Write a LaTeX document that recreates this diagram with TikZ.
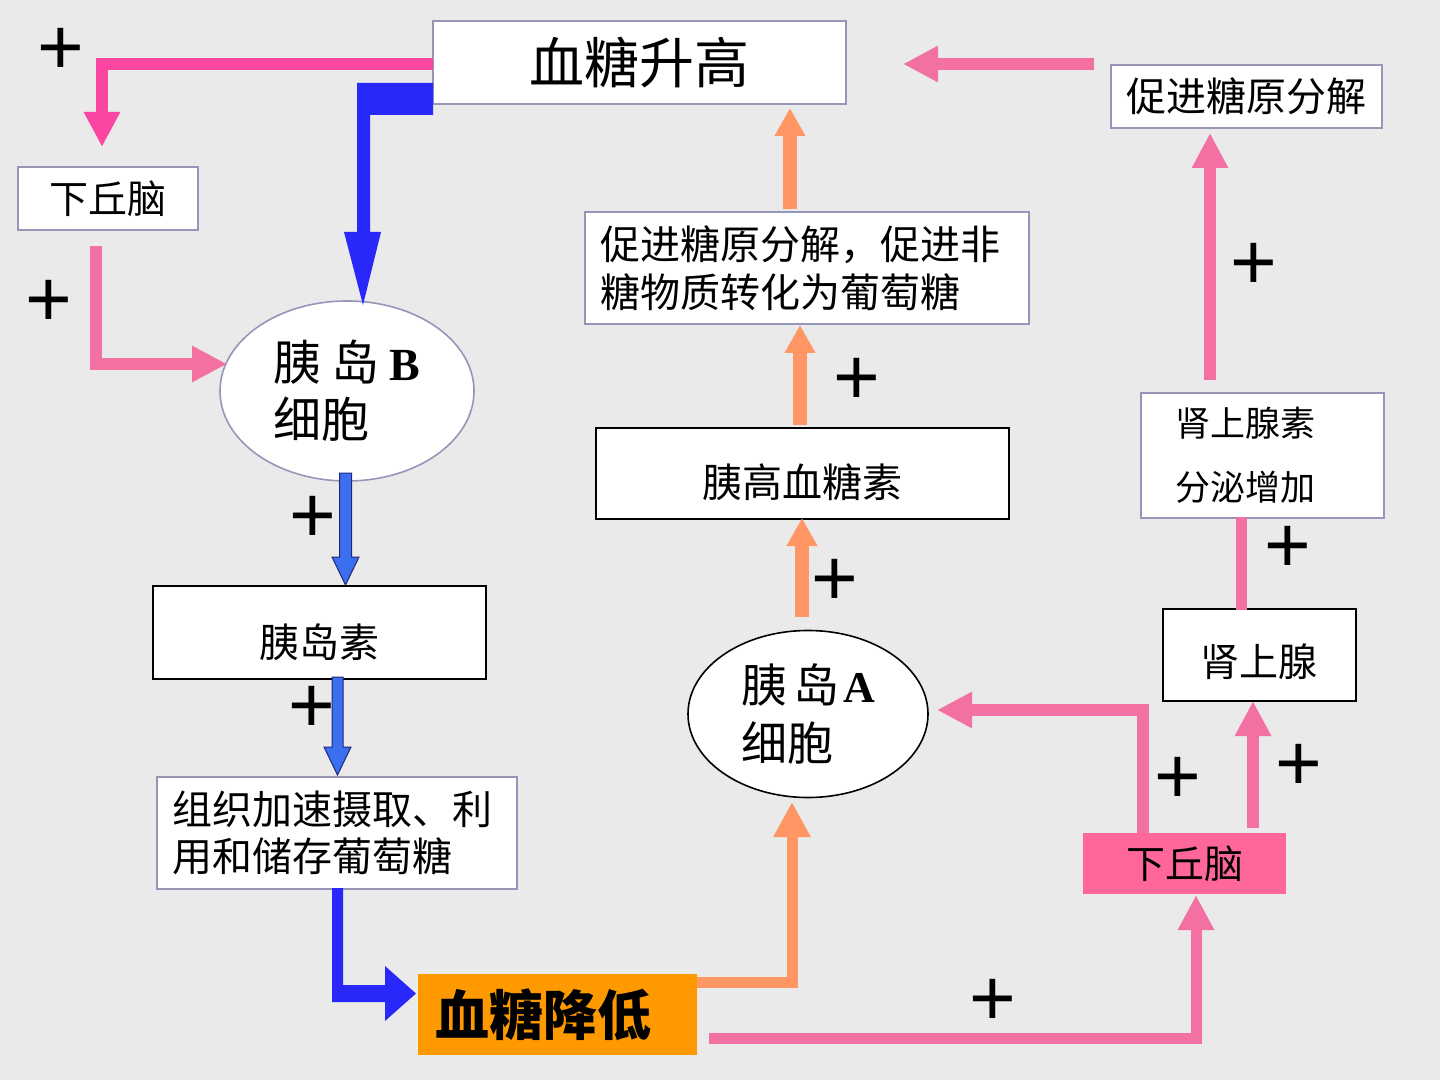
\documentclass[tikz,border=0pt]{standalone}
\usepackage{fontspec}
\newfontfamily\cjk{Noto Sans CJK SC}
\newfontfamily\lserif{Liberation Serif}
\newfontfamily\lsans{Liberation Sans}
\usetikzlibrary{arrows.meta,shapes.geometric}
\definecolor{bg}{RGB}{234,234,234}
\definecolor{bordgray}{RGB}{150,150,185}
\definecolor{pinkA}{RGB}{250,70,160}
\definecolor{pinkB}{RGB}{242,112,162}
\definecolor{orangeL}{RGB}{255,150,100}
\definecolor{orangeBox}{RGB}{255,153,0}
\definecolor{blueA}{RGB}{40,40,250}
\definecolor{blueB}{RGB}{60,110,240}
\definecolor{blueEdge}{RGB}{30,40,120}
\definecolor{pinkBox}{RGB}{255,102,153}
\tikzset{
  gbox/.style={draw=bordgray, line width=0.8pt, fill=white, inner sep=0pt, anchor=north west},
  kbox/.style={gbox, draw=black},
  cell/.style={ellipse, line width=0.8pt, fill=white, inner sep=0pt, align=left},
  plus/.style={font=\lsans\fontsize{40pt}{40pt}\selectfont, inner sep=0pt, yshift=-2.3pt},
  pinkline/.style={line width=6pt, -{Triangle[width=17pt,length=17.5pt]}},
  orline/.style={draw=orangeL, line width=7pt, -{Triangle[width=14.5pt,length=14pt]}},
  bigblue/.style={fill=blueA, draw=none},
  smallblue/.style={fill=blueB, draw=blueEdge, line width=0.5pt},
}
\newcommand{\dn}[2]{\raisebox{-#1}[\height][\depth]{#2}}
\begin{document}
\begin{tikzpicture}[x=0.5pt,y=-0.5pt]
\fill[bg] (0,0) rectangle (1440,1080);
\useasboundingbox (0,0) rectangle (1440,1080);

% boxes
\node[gbox, minimum width=206.5pt, minimum height=41.5pt, font=\cjk\fontsize{27.5pt}{30pt}\selectfont] (top) at (432,20)
  {血糖升高};
\node[gbox, minimum width=135.5pt, minimum height=31.5pt, font=\cjk\fontsize{20pt}{24pt}\selectfont] (glyc) at (1110,64)
  {促进糖原分解};
\node[gbox, minimum width=90pt, minimum height=31.5pt, font=\cjk\fontsize{19.5pt}{24pt}\selectfont] (hypL) at (17,166)
  {下丘脑};
\node[cell, draw=bordgray, minimum width=127pt, minimum height=90pt, font=\cjk\fontsize{24pt}{28.5pt}\selectfont] (cellB) at (347,391)
  {胰\hspace{5pt}岛\hspace{5pt}{\lserif\bfseries\fontsize{23pt}{28.5pt}\selectfont B}\\细胞};
\node[kbox, minimum width=166.5pt, minimum height=46.5pt, font=\cjk\fontsize{20pt}{24pt}\selectfont] (ins) at (152,585)
  {\dn{5pt}{胰岛素}};
\node[gbox, minimum width=180pt, minimum height=56pt, align=left, text width=164pt, font=\cjk\fontsize{20pt}{23.5pt}\selectfont] (tissue) at (156,776)
  {组织加速摄取、利\\用和储存葡萄糖};
\node[anchor=north west, fill=orangeBox, inner sep=0pt, minimum width=139.5pt, minimum height=40.5pt,
  align=left, text width=122.5pt, font=\cjk\fontsize{27pt}{30pt}\selectfont\bfseries] (low) at (418,974)
  {血糖降低};
\node[cell, draw=black, minimum width=120pt, minimum height=83.5pt, font=\cjk\fontsize{23pt}{29pt}\selectfont] (cellA) at (808,714)
  {胰\hspace{3pt}岛\hspace{2pt}{\lserif\bfseries\fontsize{22pt}{29pt}\selectfont A}\\细胞};
\node[kbox, minimum width=206.5pt, minimum height=45.5pt, font=\cjk\fontsize{20pt}{24pt}\selectfont] (glucagon) at (595,427)
  {\dn{4.5pt}{胰高血糖素}};
\node[gbox, minimum width=222pt, minimum height=56pt, align=left, text width=206pt, font=\cjk\fontsize{20pt}{24pt}\selectfont] (promote) at (584,211)
  {促进糖原分解，促进非\\糖物质转化为葡萄糖};
\node[gbox, minimum width=121.5pt, minimum height=62.5pt, align=left, text width=86.5pt, font=\cjk\fontsize{17.5pt}{32pt}\selectfont] (adrenalin) at (1140,392)
  {肾上腺素\\分泌增加};
\node[kbox, minimum width=96.5pt, minimum height=46pt, font=\cjk\fontsize{19.5pt}{24pt}\selectfont] (adrenal) at (1162,608)
  {\dn{3.5pt}{肾上腺}};
\node[anchor=north west, fill=pinkBox, inner sep=0pt, minimum width=101.5pt, minimum height=30.5pt, font=\cjk\fontsize{19.5pt}{24pt}\selectfont] (hypR) at (1083,833)
  {下丘脑};

% pink connectors
\coordinate (p1s) at (433,64);   \coordinate (p1e) at (102,147);
\draw[pinkline, draw=pinkA] (p1s) -| (p1e);
\coordinate (p2s) at (96,246);   \coordinate (p2e) at (227,364);
\draw[pinkline, draw=pinkB] (p2s) |- (p2e);
\coordinate (p3s) at (1094,64);  \coordinate (p3e) at (903,64);
\draw[pinkline, draw=pinkB] (p3s) -- (p3e);
\coordinate (p4s) at (1210,380); \coordinate (p4e) at (1210,133);
\draw[pinkline, draw=pinkB] (p4s) -- (p4e);
\coordinate (p5s) at (1241.5,517); \coordinate (p5e) at (1241.5,610);
\draw[draw=pinkB, line width=5.5pt] (p5s) -- (p5e);
\coordinate (p6s) at (1253,828); \coordinate (p6e) at (1253,701);
\draw[pinkline, draw=pinkB] (p6s) -- (p6e);
\coordinate (p7s) at (1143,833); \coordinate (p7e) at (937,710);
\draw[pinkline, draw=pinkB] (p7s) |- (p7e);
\coordinate (p8s) at (709,1038); \coordinate (p8e) at (1196,895);
\draw[pinkline, line width=5.5pt, draw=pinkB] (p8s) -| (p8e);

% orange connectors
\coordinate (o1s) at (697,982);  \coordinate (o1e) at (792,802);
\draw[draw=orangeL, line width=5.5pt, -{Triangle[width=17.5pt,length=17.5pt]}] (o1s) -| (o1e);
\coordinate (o2s) at (802,617);  \coordinate (o2e) at (802,518);
\draw[orline] (o2s) -- (o2e);
\coordinate (o3s) at (800,425);  \coordinate (o3e) at (800,325);
\draw[orline] (o3s) -- (o3e);
\coordinate (o4s) at (790,209);  \coordinate (o4e) at (790,108);
\draw[orline] (o4s) -- (o4e);

% blue connectors
\fill[bigblue] (433,83) -- (357,83) -- (357,232) -- (344,232) -- (363,305) -- (381,232)
  -- (370,232) -- (370,115) -- (433,115) -- cycle;
\filldraw[smallblue] (339.5,473) -- (339.5,557) -- (332,557) -- (345.5,585) -- (359,557)
  -- (351.5,557) -- (351.5,473) -- cycle;
\filldraw[smallblue] (332,677) -- (332,747) -- (324,747) -- (337.5,775) -- (351,747)
  -- (343,747) -- (343,677) -- cycle;
\fill[bigblue] (332,888) -- (332,1002) -- (385,1002) -- (385,1021) -- (416,993.5)
  -- (385,966) -- (385,985) -- (343,985) -- (343,888) -- cycle;

% plus signs
\node[plus] (s1) at (61,47) {+};
\node[plus] (s2) at (49,299) {+};
\node[plus] (s3) at (313,515) {+};
\node[plus] (s4) at (312,705) {+};
\node[plus] (s5) at (857,377) {+};
\node[plus] (s6) at (835,578) {+};
\node[plus] (s7) at (1254,262) {+};
\node[plus] (s8) at (1288,545) {+};
\node[plus] (s9) at (1178,776) {+};
\node[plus] (s10) at (1299,763) {+};
\node[plus] (s11) at (993,998) {+};
\end{tikzpicture}
\end{document}
